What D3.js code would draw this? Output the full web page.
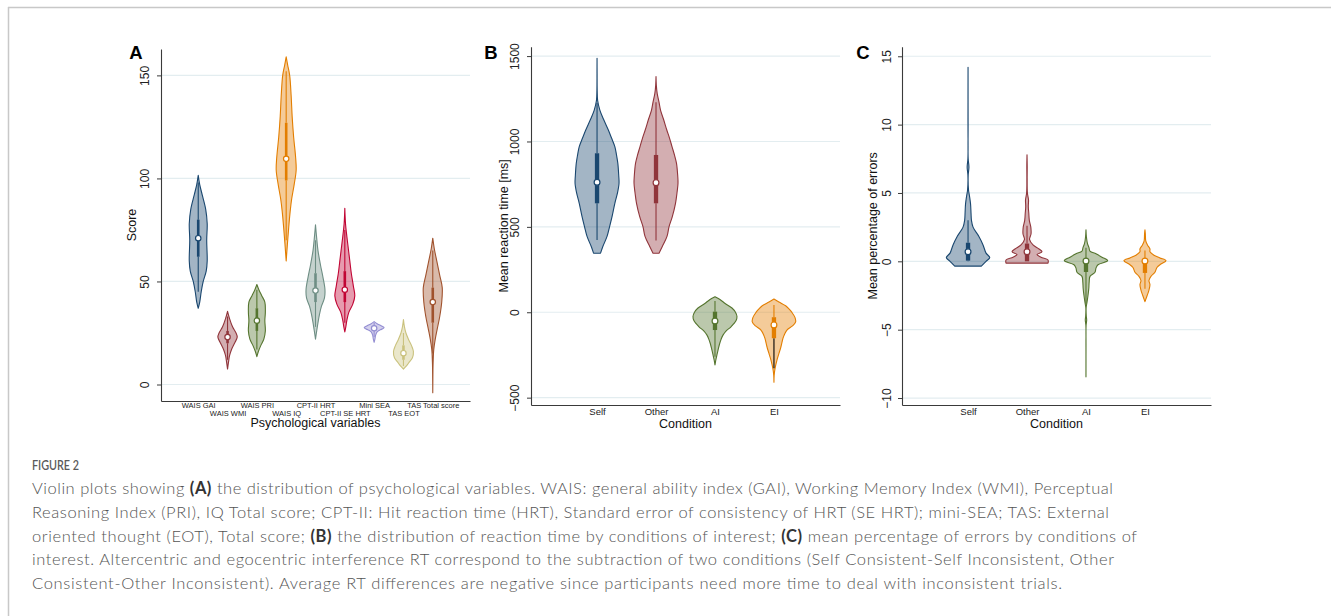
<!DOCTYPE html>
<html><head><meta charset="utf-8">
<script src="https://cdn.jsdelivr.net/npm/d3@7"></script>
<style>body{margin:0;background:#fff} svg{display:block}</style>
</head><body>
<svg id="fig" width="1331" height="616"></svg>
<script>
// ---------- Panel A data ----------
const categoriesA = ["WAIS GAI","WAIS WMI","WAIS PRI","WAIS IQ","CPT-II HRT","CPT-II SE HRT","Mini SEA","TAS EOT","TAS Total score"];
const ticksA = [0, 50, 100, 150];
const medianA = [71, 23, 31, 109.5, 45.6, 46, 27.3, 15.2, 40];
const q1A = [62, 20, 26, 99, 40, 40, 26, 12, 30];
const q3A = [80, 26, 37, 127, 54, 55, 28.5, 19, 47];
const whiskerLoA = [45, 12, 17, 70, 28, 30, 23, 9, 15];
const whiskerHiA = [98, 33, 46, 152, 70, 75, 30, 25, 65];
const densityA = [
  [[101.5,0],[97,1.5],[92,4],[85,7.5],[78,9],[70,8.5],[60,9],[55,8],[50,5],[45,3],[40,1.5],[37,0]],
  [[35.5,0],[32,2],[28,5],[25,8.5],[23,9.7],[20,7],[17,4],[14,2],[11,1],[7.5,0]],
  [[48.5,0],[46,2],[43,5],[40,8],[35,8.5],[31,8],[26,8.5],[22,7],[19,4],[16,1.5],[13.5,0]],
  [[159,0],[155,1.5],[150,3.5],[140,5],[130,6],[120,7.5],[110,9.5],[104,10],[97,8],[90,5.5],[84,4],[76,2.5],[68,1.2],[60,0]],
  [[77.5,0],[72,1],[65,2.5],[58,5],[52,7.5],[46,9.5],[42,9],[38,6],[34,4],[30,2.5],[26,1.2],[22,0]],
  [[85.5,0],[78,0.7],[72,2],[66,3.5],[60,5],[54,6.5],[48,8.5],[43,10],[39,8],[35,4],[31,2],[28,1],[25.5,0]],
  [[30.5,0],[29.5,3],[28.5,7],[27.5,10],[26.5,6],[25.5,3],[24,1.5],[22,0.8],[20.5,0]],
  [[31.5,0],[28,1],[25,2.5],[22,5],[19,8],[16,10],[13,9],[11,6],[9,3],[7.5,0]],
  [[71,0],[66,1.5],[60,4],[53,7],[47,9.5],[40,9],[33,7],[27,4.5],[22,2.5],[17,1],[10,0.3],[3,0.1],[-4,0]]
];

// ---------- Panel B data ----------
const categoriesB = ["Self","Other","AI","EI"];
const ticksB = [-500, 0, 500, 1000, 1500];
const medianB = [761, 759, -51, -74];
const q1B = [638, 638, -104, -152];
const q3B = [931, 921, 3.5, -29];
const whiskerLoB = [423, 420, -260, -328];
const whiskerHiB = [1225, 1230, 66, 43];
const densityB = [
  [[1487,0],[1400,0.05],[1300,0.15],[1240,0.6],[1184,2.8],[1130,6.5],[1067,11.3],[1020,14.5],[970,17.8],[920,19.5],[872,20.8],[800,21.7],[755,22],[700,20.5],[638,17.8],[560,15],[500,12.5],[444,10],[385,5.8],[346,3.5]],
  [[1380,0],[1330,0.3],[1280,1.2],[1230,3],[1184,4.5],[1130,7.5],[1067,10.8],[1020,13.5],[970,16],[920,18.5],[872,20.5],[800,21.7],[755,22],[700,21],[638,19.5],[560,16.3],[500,13],[444,11],[385,6.3],[346,3]],
  [[91,0],[75,5],[50,10.5],[25,17],[0,20.5],[-25,22],[-50,21],[-85,16],[-110,11],[-134,8],[-160,6],[-183,4.7],[-210,3.5],[-241,2.3],[-280,0.8],[-309,0]],
  [[78,0],[60,5],[38,11.7],[20,15],[-1,18],[-30,21],[-56,21.7],[-80,18.5],[-104,13],[-130,10.5],[-153,9],[-202,7],[-241,5],[-280,3],[-329,1.1],[-370,0.2],[-410,0]]
];

// ---------- Panel C data ----------
const categoriesC = ["Self","Other","AI","EI"];
const ticksC = [-10, -5, 0, 5, 10, 15];
const medianC = [0.7, 0.7, 0.02, 0.02];
const q1C = [0.05, 0.0, -0.78, -0.85];
const q3C = [1.36, 1.3, -0.1, -0.1];
const whiskerLoC = [0, 0, -3.1, -2.0];
const whiskerHiC = [3.0, 2.6, 1.0, 0.8];
const densityC = [
  [[14.2,0],[10,0.05],[7.5,0.15],[6.9,0.9],[6.3,0.15],[5.2,0.5],[4.8,1.4],[4.2,2.5],[3.5,3],[3,3.4],[2.5,5],[1.8,11],[1.2,15],[0.6,18],[0.27,21.7],[0,18],[-0.35,13.3]],
  [[7.8,0],[7,0.2],[6,0.15],[5,0.4],[4.5,1.5],[4,1.3],[3.5,1.8],[3,2.3],[2.5,3.8],[2,4],[1.6,2.5],[1.2,6],[0.9,12],[0.7,15],[0.5,10],[0.3,14],[0.1,21],[-0.13,21]],
  [[2.3,0],[1.8,0.4],[1.3,1.5],[1,3],[0.75,4],[0.55,10],[0.3,16],[0.05,21.7],[-0.25,12],[-0.5,10],[-0.8,9],[-1.1,4],[-1.5,3.2],[-2,2.8],[-2.5,2],[-3,1],[-3.4,0.15],[-4,0.3],[-4.3,0.7],[-4.7,0.1],[-6,0.03],[-8.45,0]],
  [[2.3,0],[2,0.4],[1.5,0.8],[1.2,2.5],[0.9,5],[0.7,5],[0.45,9],[0.25,15],[0.05,21],[-0.2,16],[-0.45,12],[-0.8,10],[-1.1,6],[-1.4,4],[-1.7,5],[-2.1,4],[-2.5,2.2],[-2.95,0]]
];

// ---------- caption text ----------
const captionTitle = "FIGURE 2";
const captionLines = [
  [["Violin plots showing ",0],["(A)",1],[" the distribution of psychological variables. WAIS: general ability index (GAI), Working Memory Index (WMI), Perceptual",0]],
  [["Reasoning Index (PRI), IQ Total score; CPT-II: Hit reaction time (HRT), Standard error of consistency of HRT (SE HRT); mini-SEA; TAS: External",0]],
  [["oriented thought (EOT), Total score; ",0],["(B)",1],[" the distribution of reaction time by conditions of interest; ",0],["(C)",1],[" mean percentage of errors by conditions of",0]],
  [["interest. Altercentric and egocentric interference RT correspond to the subtraction of two conditions (Self Consistent-Self Inconsistent, Other",0]],
  [["Consistent-Other Inconsistent). Average RT differences are negative since participants need more time to deal with inconsistent trials.",0]]
];
const captionWidths = [1081, 1077, 1105, 1082, 1030];

// ---------- styles ----------
const stataColors = ["#1a476f","#90353b","#55752f","#e37e00","#6e8e84","#c10534","#938dd2","#cac27e","#a0522d"];
const gridColor = "#e3edf0";
const axisColor = "#3a3a3a";
const FONT = "'Liberation Sans', Arial, Helvetica, sans-serif";

const svg = d3.select("#fig");
svg.append("rect").attr("width",1331).attr("height",616).attr("fill","#fff");
// border frame
svg.append("line").attr("x1",8).attr("x2",1331).attr("y1",7.5).attr("y2",7.5).attr("stroke","#c8c8c8").attr("stroke-width",1.5);
svg.append("line").attr("x1",8.5).attr("x2",8.5).attr("y1",7).attr("y2",616).attr("stroke","#c8c8c8").attr("stroke-width",1.5);

function panel(cfg){
  const g = svg.append("g");
  const x = d3.scalePoint().domain(cfg.categories).range([cfg.left, cfg.right]).padding(cfg.padding);
  const y = d3.scaleLinear().domain(cfg.domain).range([cfg.bottom, cfg.top]);
  const w = d3.scaleLinear().domain([0, cfg.maxDensity]).range([0, x.step()*cfg.widthFrac]);

  g.selectAll(".grid").data(cfg.ticks).join("line")
    .attr("x1", cfg.left).attr("x2", cfg.right)
    .attr("y1", d=>y(d)).attr("y2", d=>y(d))
    .attr("stroke", gridColor).attr("stroke-width", 1.2);

  cfg.categories.forEach((c,i)=>{
    const cx = x(c);
    const col = cfg.colors[i];
    const area = d3.area()
      .y(d=>y(d[0])).x0(d=>cx - w(d[1])).x1(d=>cx + w(d[1]))
      .curve(d3.curveCatmullRom.alpha(0.5));
    g.append("path").attr("d", area(cfg.density[i]))
      .attr("fill", col).attr("fill-opacity", 0.4)
      .attr("stroke", col).attr("stroke-width", 1.1).attr("stroke-linejoin","round");
    g.append("line").attr("x1",cx).attr("x2",cx)
      .attr("y1", y(cfg.whiskerHi[i])).attr("y2", y(cfg.q3[i]))
      .attr("stroke", col).attr("stroke-width", 1.1);
    g.append("line").attr("x1",cx).attr("x2",cx)
      .attr("y1", y(cfg.q1[i])).attr("y2", y(cfg.whiskerLo[i]))
      .attr("stroke", (cfg.lowWhiskerColor && cfg.lowWhiskerColor[i]) || col).attr("stroke-width", 1.1);
    g.append("rect").attr("x", cx - cfg.boxW/2).attr("width", cfg.boxW)
      .attr("y", y(cfg.q3[i])).attr("height", y(cfg.q1[i]) - y(cfg.q3[i]))
      .attr("fill", col);
    g.append("circle").attr("cx",cx).attr("cy",y(cfg.median[i])).attr("r",cfg.medR)
      .attr("fill","#fff").attr("stroke",col).attr("stroke-width",1.2);
  });

  const ya = g.append("g").attr("transform",`translate(${cfg.left},0)`)
    .call(d3.axisLeft(y).tickValues(cfg.ticks).tickFormat(d3.format("d")).tickSize(4).tickSizeOuter(0));
  ya.select(".domain").attr("stroke", axisColor).attr("stroke-width",1.1);
  ya.selectAll(".tick line").attr("stroke", axisColor);
  ya.selectAll(".tick text")
    .attr("x",0).attr("y",0).attr("dy","0.35em")
    .attr("text-anchor","middle")
    .attr("transform",`translate(${-cfg.tickLabelOff},0) rotate(-90)`)
    .attr("font-family",FONT).attr("font-size",12).attr("fill","#222");

  const xa = g.append("g").attr("transform",`translate(0,${cfg.bottom})`)
    .call(d3.axisBottom(x).tickSize(0).tickSizeOuter(0));
  xa.select(".domain").attr("stroke", axisColor).attr("stroke-width",1.1);
  xa.selectAll(".tick text")
    .attr("y", (d,i)=> cfg.xLabelY[i % cfg.xLabelY.length]).attr("dy","0.35em")
    .attr("font-family",FONT).attr("font-size",cfg.xLabelSize).attr("fill","#222");

  g.append("text").attr("x",(cfg.left+cfg.right)/2).attr("y",cfg.xTitleY).attr("dy","0.35em")
    .attr("text-anchor","middle").attr("font-family",FONT).attr("font-size",12.5).attr("fill","#111")
    .text(cfg.xTitle);
  g.append("text").attr("transform",`translate(${cfg.yTitleX},${(cfg.top+cfg.bottom)/2}) rotate(-90)`)
    .attr("dy","0.35em").attr("text-anchor","middle")
    .attr("font-family",FONT).attr("font-size",12.5).attr("fill","#111")
    .text(cfg.yTitle);
  g.append("text").attr("x",cfg.letterX).attr("y",59).attr("text-anchor","middle")
    .attr("font-family",FONT).attr("font-weight","bold").attr("font-size",18.5).attr("fill","#000")
    .text(cfg.letter);
}

panel({categories:categoriesA, ticks:ticksA, domain:[-8,162.8], left:161, right:470, top:49, bottom:401,
  padding:1.27, maxDensity:10, widthFrac:0.34, colors:stataColors, density:densityA,
  median:medianA, q1:q1A, q3:q3A, whiskerLo:whiskerLoA, whiskerHi:whiskerHiA, boxW:2.6, medR:2.7,
  tickLabelOff:16, xLabelY:[4.7, 12.3], xLabelSize:7.5, xTitle:"Psychological variables", xTitleY:423,
  yTitle:"Score", yTitleX:131.5, letter:"A", letterX:136});

panel({categories:categoriesB, ticks:ticksB, domain:[-543,1555], left:531, right:840, top:46.7, bottom:405,
  padding:1.12, maxDensity:22, widthFrac:0.373, colors:stataColors.slice(0,4), density:densityB,
  median:medianB, q1:q1B, q3:q3B, whiskerLo:whiskerLoB, whiskerHi:whiskerHiB, boxW:4.3, medR:2.9,
  lowWhiskerColor:[null,null,null,"#000"],
  tickLabelOff:16, xLabelY:[6.7], xLabelSize:9.5, xTitle:"Condition", xTitleY:424,
  yTitle:"Mean reaction time [ms]", yTitleX:503.3, letter:"B", letterX:491});

panel({categories:categoriesC, ticks:ticksC, domain:[-10.51,15.7], left:902, right:1211, top:46.7, bottom:405,
  padding:1.12, maxDensity:22, widthFrac:0.373, colors:stataColors.slice(0,4), density:densityC,
  median:medianC, q1:q1C, q3:q3C, whiskerLo:whiskerLoC, whiskerHi:whiskerHiC, boxW:4.3, medR:2.9,
  tickLabelOff:15.5, xLabelY:[6.7], xLabelSize:9.5, xTitle:"Condition", xTitleY:424,
  yTitle:"Mean percentage of errors", yTitleX:872.3, letter:"C", letterX:863});

// caption
const CAPFONT = "Lato, 'Open Sans', sans-serif";
svg.append("text").attr("x",32).attr("y",469.5).attr("font-family",CAPFONT).attr("font-size",13)
  .attr("font-weight",600).attr("fill","#5a5a5a").attr("textLength",47).attr("lengthAdjust","spacingAndGlyphs")
  .text(captionTitle);
const lineY = [494, 517.5, 542, 565, 589];
captionLines.forEach((segs,i)=>{
  const t = svg.append("text").attr("x",32).attr("y",lineY[i])
    .attr("font-family",CAPFONT).attr("font-size",16.5).attr("font-weight",300).attr("fill","#555")
    .attr("textLength",captionWidths[i]).attr("lengthAdjust","spacing");
  segs.forEach(s=>{
    t.append("tspan").text(s[0]).attr("font-weight", s[1]?700:300).attr("fill", s[1]?"#333":"#555");
  });
});
</script>
</body></html>
